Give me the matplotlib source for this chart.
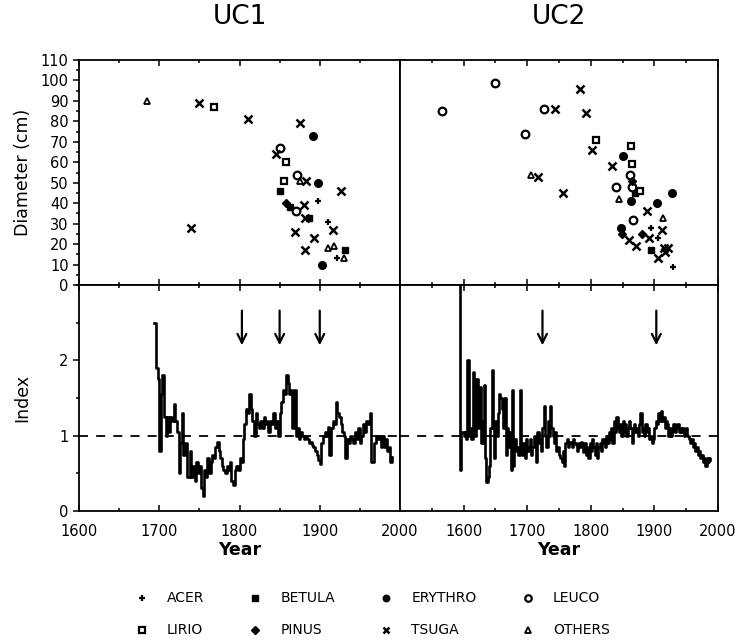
import matplotlib
matplotlib.use('Agg')
import matplotlib.pyplot as plt
from matplotlib.lines import Line2D
from matplotlib.ticker import MultipleLocator

# ---------------- data ----------------
species = ['ACER', 'BETULA', 'ERYTHRO', 'LEUCO', 'LIRIO', 'PINUS', 'TSUGA', 'OTHERS']

uc1_species = ['OTHERS', 'TSUGA', 'LIRIO', 'TSUGA', 'TSUGA', 'TSUGA', 'ERYTHRO', 'LEUCO',
               'TSUGA', 'LIRIO', 'LIRIO', 'LEUCO', 'OTHERS', 'TSUGA', 'ERYTHRO', 'TSUGA',
               'BETULA', 'PINUS', 'BETULA', 'LEUCO', 'TSUGA', 'BETULA', 'TSUGA', 'ACER',
               'ACER', 'TSUGA', 'TSUGA', 'TSUGA', 'TSUGA', 'OTHERS', 'OTHERS', 'BETULA',
               'OTHERS', 'ACER', 'ERYTHRO']
uc1_year = [1685, 1750, 1768, 1810, 1740, 1876, 1892, 1850,
            1845, 1858, 1855, 1872, 1875, 1883, 1898, 1926,
            1850, 1858, 1863, 1871, 1880, 1887, 1882, 1898,
            1910, 1917, 1869, 1893, 1881, 1910, 1918, 1931,
            1930, 1922, 1903]
uc1_diam = [90, 89, 87, 81, 28, 79, 73, 67,
            64, 60, 51, 54, 51, 51, 50, 46,
            46, 40, 38, 36, 39, 33, 33, 41,
            31, 27, 26, 23, 17, 18, 19, 17,
            13, 13, 10]

uc2_species = ['LEUCO', 'LEUCO', 'LEUCO', 'TSUGA', 'TSUGA', 'TSUGA', 'LEUCO', 'LIRIO',
               'TSUGA', 'LIRIO', 'ERYTHRO', 'TSUGA', 'LIRIO', 'LEUCO', 'PINUS', 'OTHERS',
               'TSUGA', 'TSUGA', 'LEUCO', 'LEUCO', 'LIRIO', 'BETULA', 'ERYTHRO', 'OTHERS',
               'ERYTHRO', 'ERYTHRO', 'TSUGA', 'OTHERS', 'LEUCO', 'ERYTHRO', 'TSUGA', 'ACER',
               'PINUS', 'TSUGA', 'PINUS', 'TSUGA', 'ACER', 'TSUGA', 'BETULA', 'TSUGA',
               'TSUGA', 'TSUGA', 'TSUGA', 'ACER']
uc2_year = [1566, 1649, 1726, 1744, 1783, 1793, 1697, 1808,
            1802, 1863, 1850, 1833, 1865, 1862, 1864, 1706,
            1717, 1756, 1839, 1864, 1878, 1869, 1927, 1844,
            1863, 1904, 1888, 1913, 1867, 1847, 1912, 1894,
            1849, 1860, 1881, 1892, 1906, 1871, 1894, 1915,
            1922, 1917, 1905, 1929]
uc2_diam = [85, 99, 86, 86, 96, 84, 74, 71,
            66, 68, 63, 58, 59, 54, 51, 54,
            53, 45, 48, 48, 46, 45, 45, 42,
            41, 40, 36, 33, 32, 28, 27, 28,
            25, 22, 25, 23, 23, 19, 17, 18,
            18, 16, 13, 9]

uc1_index_start = 1694
uc1_index_step = 2
uc1_index = [2.5, 1.9, 1.75, 0.8, 1.55, 1.8, 1.25, 1.0, 1.25, 1.05,
             1.25, 1.2, 1.42, 1.2, 1.05, 0.5, 0.9, 1.3, 0.75, 0.9,
             0.45, 0.45, 0.8, 0.45, 0.6, 0.4, 0.65, 0.5, 0.6, 0.3,
             0.2, 0.55, 0.45, 0.7, 0.5, 0.65, 0.75, 0.7, 0.85, 0.92,
             0.8, 0.7, 0.6, 0.55, 0.5, 0.6, 0.55, 0.65, 0.4, 0.35,
             0.55, 0.6, 0.55, 0.7, 0.65, 0.95, 1.15, 1.35, 1.3, 1.55,
             1.35, 1.2, 1.0, 1.3, 1.15, 1.1, 1.2, 1.1, 1.25, 1.15,
             1.2, 1.05, 1.2, 1.15, 1.3, 1.1, 1.2, 1.0, 1.3, 1.45,
             1.6, 1.55, 1.8, 1.7, 1.55, 1.6, 1.1, 1.6, 1.0, 1.1,
             0.95, 1.05, 1.0, 0.95, 1.0, 0.95, 0.9, 0.92, 0.88, 0.85,
             0.8, 0.75, 0.68, 0.62, 0.9, 1.0, 1.05, 1.0, 1.12, 0.75,
             1.1, 1.2, 1.15, 1.45, 1.3, 1.25, 1.15, 1.05, 1.0, 0.7,
             0.95, 0.9, 1.0, 0.95, 0.9, 1.05, 0.95, 1.1, 0.9, 1.0,
             1.15, 1.05, 1.2, 1.15, 1.3, 0.65, 0.65, 0.9, 1.0, 0.95,
             1.0, 0.85, 1.0, 0.85, 0.95, 0.8, 0.85, 0.65, 0.72]

uc2_index_start = 1592
uc2_index_step = 2
uc2_index = [3.5, 0.55, 1.05, 1.05, 1.0, 1.05, 0.95, 2.0, 1.0, 1.1,
             0.95, 1.85, 1.2, 1.0, 1.75, 1.1, 1.3, 1.65, 0.9, 1.2,
             1.67, 0.7, 0.38, 0.45, 0.6, 1.1, 1.87, 1.1, 0.7, 1.2,
             1.0, 1.3, 1.55, 1.5, 1.35, 1.1, 1.5, 0.75, 1.1, 0.85,
             1.05, 0.55, 1.6, 0.6, 0.95, 0.8, 0.85, 0.75, 1.6, 0.85,
             0.75, 0.9, 0.7, 0.95, 0.85, 0.8, 0.95, 0.75, 0.85, 1.0,
             0.9, 0.65, 1.05, 0.9, 0.95, 0.8, 1.1, 1.4, 1.0, 0.85,
             1.2, 1.0, 1.4, 1.1, 1.0, 0.9, 1.05, 0.8, 0.85, 0.75,
             0.7, 0.65, 0.8, 0.6, 0.9, 0.95, 0.85, 0.9, 0.92, 0.85,
             0.95, 0.9, 0.88, 0.8, 0.9, 0.85, 0.92, 0.88, 0.78, 0.9,
             0.75, 0.85, 0.7, 0.9, 0.8, 0.95, 0.85, 0.75, 0.9, 0.7,
             0.85, 0.9, 0.8, 0.95, 0.9, 0.85, 1.0, 0.9, 1.05, 0.95,
             1.1, 0.9, 1.2, 1.05, 1.25, 1.1, 1.05, 1.15, 1.0, 1.2,
             1.05, 1.15, 1.0, 1.1, 1.2, 1.1, 0.9, 1.05, 1.15, 1.05,
             1.1, 1.0, 1.15, 1.3, 1.05, 1.1, 1.0, 1.15, 1.05, 1.1,
             0.95, 1.0, 0.9, 0.95, 1.1, 1.2, 1.15, 1.3, 1.2, 1.33,
             1.2, 1.25, 1.1, 1.2, 1.15, 1.0, 1.1, 1.0, 1.05, 1.15,
             1.05, 1.1, 1.15, 1.05, 1.1, 1.05, 1.1, 1.0, 1.05, 1.1,
             1.0, 0.95, 0.9, 0.95, 0.85, 0.9, 0.8, 0.85, 0.75, 0.8,
             0.7, 0.75, 0.65, 0.7, 0.6, 0.7, 0.65, 0.7, 0.68]

uc1_arrow_years = [1803, 1850, 1900]
uc2_arrow_years = [1724, 1903]

# ---------------- styles ----------------
mstyle = {
    'ACER':    dict(marker='+', ms=5, mew=1.6, mfc='k', mec='k'),
    'BETULA':  dict(marker='s', ms=5, mew=1.0, mfc='k', mec='k'),
    'ERYTHRO': dict(marker='o', ms=5.5, mew=1.0, mfc='k', mec='k'),
    'LEUCO':   dict(marker='o', ms=5.5, mew=1.6, mfc='white', mec='k'),
    'LIRIO':   dict(marker='s', ms=5, mew=1.6, mfc='white', mec='k'),
    'PINUS':   dict(marker='D', ms=4.5, mew=1.0, mfc='k', mec='k'),
    'TSUGA':   dict(marker='x', ms=5.5, mew=1.8, mfc='k', mec='k'),
    'OTHERS':  dict(marker='^', ms=5, mew=1.3, mfc='white', mec='k'),
}

plt.rcParams['font.family'] = ['DejaVu Sans']
fig = plt.figure(figsize=(7.4, 6.4), dpi=100)

L0, LW = 79 / 740, 321 / 740
R0, RW = 400 / 740, 318 / 740
T0, TH = 1 - 285 / 640, 225 / 640
B0, BH = 1 - 511 / 640, 226 / 640

ax_tl = fig.add_axes([L0, T0, LW, TH])
ax_tr = fig.add_axes([R0, T0, RW, TH])
ax_bl = fig.add_axes([L0, B0, LW, BH])
ax_br = fig.add_axes([R0, B0, RW, BH])


def scatter_panel(ax, sp, yr, dm):
    for s in species:
        xs = [y for y, k in zip(yr, sp) if k == s]
        ds = [d for d, k in zip(dm, sp) if k == s]
        if xs:
            ax.plot(xs, ds, ls='none', **mstyle[s])


scatter_panel(ax_tl, uc1_species, uc1_year, uc1_diam)
scatter_panel(ax_tr, uc2_species, uc2_year, uc2_diam)


def index_panel(ax, start, step, vals, arrows, x0):
    yrs = [start + step * i for i in range(len(vals))]
    ax.plot(yrs, vals, drawstyle='steps-post', color='k', lw=1.9, clip_on=True)
    ax.plot([x0, 2000], [1, 1], ls=(0, (5, 4.5)), color='k', lw=1.3, zorder=1)
    for a in arrows:
        ax.annotate('', xy=(a, 2.2), xytext=(a, 2.66),
                    arrowprops=dict(arrowstyle='->', lw=1.6, color='k',
                                    mutation_scale=16, shrinkA=0, shrinkB=0))


index_panel(ax_bl, uc1_index_start, uc1_index_step, uc1_index, uc1_arrow_years, 1600)
index_panel(ax_br, uc2_index_start, uc2_index_step, uc2_index, uc2_arrow_years, 1500)

for ax in (ax_tl, ax_tr):
    ax.set_ylim(0, 110)
for ax in (ax_bl, ax_br):
    ax.set_ylim(0, 3)
for ax in (ax_tl, ax_bl):
    ax.set_xlim(1600, 2000)
for ax in (ax_tr, ax_br):
    ax.set_xlim(1500, 2000)

for ax in (ax_tl, ax_tr, ax_bl, ax_br):
    ax.xaxis.set_major_locator(MultipleLocator(100))
    ax.xaxis.set_minor_locator(MultipleLocator(50))
    for sp in ax.spines.values():
        sp.set_linewidth(1.3)
    ax.tick_params(which='both', direction='in', top=True, right=True,
                   labelsize=10.5, width=1.1)
    ax.tick_params(which='major', length=4)
    ax.tick_params(which='minor', length=2.5)

ax_tl.yaxis.set_major_locator(MultipleLocator(10))
ax_tl.yaxis.set_minor_locator(MultipleLocator(5))
ax_tr.yaxis.set_major_locator(MultipleLocator(10))
ax_tr.yaxis.set_minor_locator(MultipleLocator(5))
ax_bl.yaxis.set_major_locator(MultipleLocator(1))
ax_bl.yaxis.set_minor_locator(MultipleLocator(0.5))
ax_br.yaxis.set_major_locator(MultipleLocator(1))
ax_br.yaxis.set_minor_locator(MultipleLocator(0.5))
ax_bl.set_yticks([0, 1, 2])

for ax in (ax_tl, ax_bl):
    ax.tick_params(axis='y', which='both', direction='out', left=True)

ax_tl.tick_params(labelbottom=False)
ax_tr.tick_params(labelbottom=False, labelleft=False)
ax_br.tick_params(labelleft=False)
ax_tr.tick_params(axis='y', which='both', left=False, right=False)
ax_br.tick_params(axis='y', which='both', left=False, right=False)
ax_br.set_xticks([1600, 1700, 1800, 1900, 2000])
for ax in (ax_bl, ax_br):
    ax.tick_params(axis='x', which='major', pad=9)

ax_tl.set_ylabel('Diameter (cm)', fontsize=12.5, labelpad=6)
ax_bl.set_ylabel('Index', fontsize=12.5, labelpad=20)
ax_bl.set_xlabel('Year', fontsize=12.5, fontweight='bold', labelpad=2)
ax_br.set_xlabel('Year', fontsize=12.5, fontweight='bold', labelpad=2)
ax_tl.set_title('UC1', fontsize=19, pad=26)
ax_tr.set_title('UC2', fontsize=19, pad=26)

# legend (row-major visual order -> column-major handle order)
order = ['ACER', 'LIRIO', 'BETULA', 'PINUS', 'ERYTHRO', 'TSUGA', 'LEUCO', 'OTHERS']
handles = [Line2D([], [], ls='none', **dict(mstyle[s], ms=mstyle[s]['ms'] * 0.85))
           for s in order]
fig.legend(handles, order, ncol=4, loc='center', bbox_to_anchor=(0.503, 0.04),
           frameon=False, fontsize=10, handlelength=1.0, handletextpad=1.3,
           columnspacing=3.2, labelspacing=1.3)

fig.savefig('out.png', dpi=100)
